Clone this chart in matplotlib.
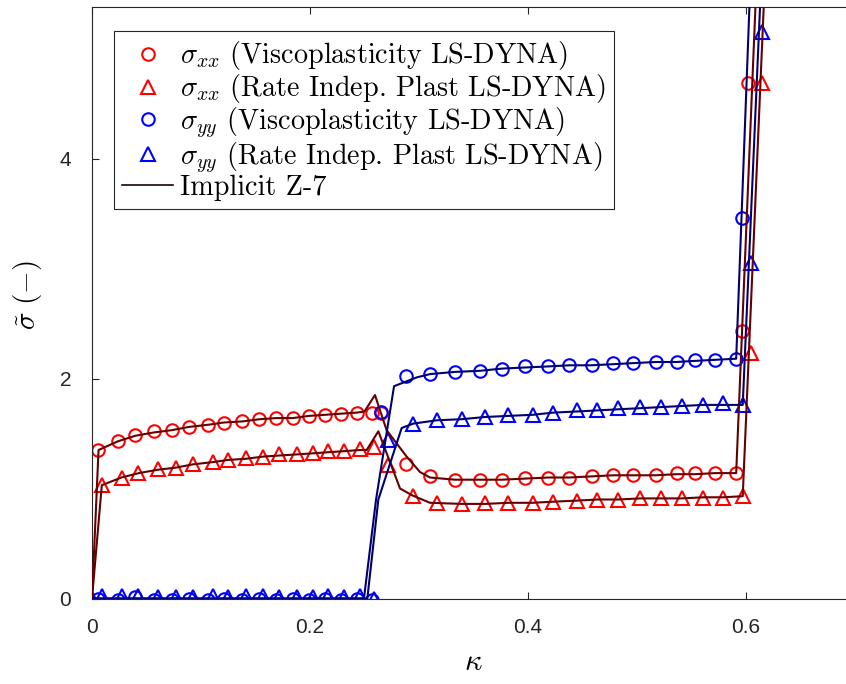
import matplotlib
matplotlib.use("Agg")
import matplotlib.pyplot as plt
from matplotlib.lines import Line2D

plt.rcParams['mathtext.fontset'] = 'cm'
plt.rcParams['font.family'] = ['Liberation Sans', 'DejaVu Sans']

# LS-DYNA, viscoplasticity (circles)
visc_x = [0.0058, 0.0236, 0.0394, 0.0569, 0.0731, 0.0890, 0.1067, 0.1214, 0.1379, 0.1535,
          0.1688, 0.1841, 0.1991, 0.2138, 0.2284, 0.2428, 0.2566, 0.2651, 0.2881, 0.3101,
          0.3330, 0.3560, 0.3764, 0.3972, 0.4186, 0.4376, 0.4584, 0.4783, 0.4966, 0.5174,
          0.5364, 0.5532, 0.5716, 0.5908, 0.5961, 0.6021]
sxx_visc = [1.35, 1.43, 1.49, 1.52, 1.53, 1.56, 1.58, 1.60, 1.61, 1.63,
            1.64, 1.64, 1.66, 1.67, 1.68, 1.69, 1.69, 1.69, 1.22, 1.11,
            1.08, 1.08, 1.08, 1.10, 1.10, 1.10, 1.11, 1.12, 1.12, 1.12,
            1.14, 1.14, 1.14, 1.14, 2.43, 4.69]
syy_visc = [0.00, -0.01, 0.01, -0.01, -0.01, 0.00, -0.01, 0.00, -0.01, 0.00,
            -0.01, 0.00, -0.01, 0.00, -0.01, 0.00, -0.01, 1.70, 2.02, 2.04,
            2.06, 2.07, 2.09, 2.11, 2.11, 2.12, 2.12, 2.14, 2.14, 2.15,
            2.15, 2.17, 2.17, 2.18, 3.46, 6.50]

# LS-DYNA, rate independent plasticity (triangles)
rip_x = [0.0, 0.0089, 0.0272, 0.0425, 0.0603, 0.0768, 0.0929, 0.1107, 0.1250, 0.1410,
         0.1566, 0.1718, 0.1878, 0.2025, 0.2168, 0.2315, 0.2459, 0.2587, 0.2718, 0.2948,
         0.3162, 0.3392, 0.3606, 0.3819, 0.4043, 0.4232, 0.4447, 0.4636, 0.4826, 0.5028,
         0.5220, 0.5413, 0.5608, 0.5786, 0.5970, 0.6043, 0.6144]
sxx_rip = [0.0, 1.03, 1.10, 1.14, 1.18, 1.19, 1.22, 1.24, 1.26, 1.28,
           1.29, 1.31, 1.31, 1.32, 1.34, 1.34, 1.36, 1.38, 1.21, 0.93,
           0.87, 0.86, 0.87, 0.87, 0.87, 0.88, 0.89, 0.90, 0.90, 0.91,
           0.91, 0.91, 0.91, 0.91, 0.93, 2.23, 4.69]
syy_rip = [0.0, 0.02, 0.02, 0.02, 0.01, 0.01, 0.01, 0.02, 0.01, 0.02,
           0.02, 0.01, 0.01, 0.01, 0.02, 0.01, 0.02, 0.00, 1.44, 1.59,
           1.62, 1.63, 1.65, 1.67, 1.67, 1.69, 1.71, 1.71, 1.73, 1.74,
           1.74, 1.75, 1.76, 1.78, 1.76, 3.05, 5.15]

# Implicit Z-7 curves
z7_xx_visc_x = [0.0, 0.006, 0.024, 0.040, 0.057, 0.073, 0.089, 0.107, 0.121, 0.138,
                0.154, 0.169, 0.184, 0.199, 0.214, 0.228, 0.243, 0.250, 0.2596, 0.2703,
                0.2887, 0.3009, 0.3101, 0.333, 0.356, 0.376, 0.397, 0.419, 0.438, 0.458,
                0.478, 0.497, 0.517, 0.536, 0.553, 0.572, 0.591, 0.620]
z7_xx_visc = [0.0, 1.35, 1.43, 1.48, 1.51, 1.53, 1.56, 1.58, 1.60, 1.61,
              1.63, 1.64, 1.64, 1.66, 1.67, 1.68, 1.69, 1.70, 1.85, 1.53,
              1.29, 1.15, 1.10, 1.08, 1.08, 1.08, 1.09, 1.10, 1.10, 1.11,
              1.12, 1.12, 1.12, 1.13, 1.13, 1.14, 1.14, 8.1]

z7_xx_rip_x = [0.0, 0.009, 0.027, 0.043, 0.060, 0.077, 0.093, 0.111, 0.125, 0.141,
               0.157, 0.172, 0.188, 0.203, 0.217, 0.232, 0.246, 0.252, 0.2627, 0.2826,
               0.2933, 0.3101, 0.339, 0.361, 0.382, 0.404, 0.423, 0.445, 0.464, 0.483,
               0.503, 0.522, 0.541, 0.561, 0.579, 0.597, 0.625]
z7_xx_rip = [0.0, 1.03, 1.10, 1.14, 1.17, 1.19, 1.22, 1.24, 1.26, 1.27,
             1.29, 1.30, 1.31, 1.32, 1.33, 1.34, 1.35, 1.35, 1.52, 1.00,
             0.94, 0.87, 0.86, 0.86, 0.87, 0.87, 0.88, 0.89, 0.90, 0.90,
             0.91, 0.91, 0.91, 0.92, 0.92, 0.93, 7.4]

z7_yy_visc_x = [0.0, 0.2495, 0.2606, 0.2771, 0.2979, 0.3101, 0.333, 0.356, 0.376, 0.397,
                0.419, 0.438, 0.458, 0.478, 0.497, 0.517, 0.536, 0.553, 0.572, 0.591, 0.615]
z7_yy_visc = [0.0, 0.0, 0.90, 1.93, 2.01, 2.04, 2.06, 2.07, 2.09, 2.10,
              2.11, 2.12, 2.12, 2.13, 2.14, 2.15, 2.15, 2.16, 2.17, 2.18, 8.5]

z7_yy_rip_x = [0.0, 0.2526, 0.2627, 0.2841, 0.2948, 0.3162, 0.3392, 0.3606, 0.3819, 0.4043,
               0.4232, 0.4447, 0.4636, 0.4826, 0.5028, 0.5220, 0.5413, 0.5608, 0.5786, 0.5970, 0.620]
z7_yy_rip = [0.0, 0.0, 0.90, 1.55, 1.59, 1.62, 1.63, 1.65, 1.66, 1.67,
             1.69, 1.70, 1.71, 1.72, 1.73, 1.74, 1.75, 1.76, 1.76, 1.76, 7.0]

dark_red = '#640000'
dark_blue = '#000070'

fig = plt.figure(figsize=(8.46, 6.84), dpi=100)
ax = fig.add_axes([92 / 846, (684 - 598.5) / 684, (855 - 92) / 846, (598.5 - 6.7) / 684])

mk = dict(linestyle='none', markerfacecolor='none', markeredgewidth=1.5, zorder=2)
ax.plot(visc_x, sxx_visc, marker='o', markersize=9, markeredgecolor='r', **mk)
ax.plot(rip_x, sxx_rip, marker='^', markersize=10, markeredgecolor='r', **mk)
ax.plot(visc_x, syy_visc, marker='o', markersize=9, markeredgecolor='b', **mk)
ax.plot(rip_x, syy_rip, marker='^', markersize=10, markeredgecolor='b', **mk)

ax.plot(z7_xx_visc_x, z7_xx_visc, color=dark_red, lw=1.5, zorder=3)
ax.plot(z7_xx_rip_x, z7_xx_rip, color=dark_red, lw=1.5, zorder=3)
ax.plot(z7_yy_visc_x, z7_yy_visc, color=dark_blue, lw=1.5, zorder=3)
ax.plot(z7_yy_rip_x, z7_yy_rip, color=dark_blue, lw=1.5, zorder=3)

ax.set_xlim(0, 0.7)
ax.set_ylim(0, 5.38)
ax.set_xticks([0, 0.2, 0.4, 0.6])
ax.set_xticklabels(['0', '0.2', '0.4', '0.6'])
ax.set_yticks([0, 2, 4])
ax.set_yticklabels(['0', '2', '4'])
ax.tick_params(axis='both', direction='in', length=5, width=0.8, top=True, right=True,
               labelsize=15, colors='#262626')
ax.tick_params(axis='x', pad=14)
ax.tick_params(axis='y', pad=15)
for s in ax.spines.values():
    s.set_color('#262626')
    s.set_linewidth(0.8)

ax.set_xlabel(r'$\kappa$', fontsize=22, va='center')
ax.xaxis.set_label_coords(0.5, -0.108)
ax.set_ylabel(r'$\tilde{\sigma}\ (-)$', fontsize=21, va='center')
ax.yaxis.set_label_coords(-0.084, 0.513)

handles = [
    Line2D([], [], marker='o', markersize=9, markeredgecolor='r', **mk),
    Line2D([], [], marker='^', markersize=10, markeredgecolor='r', **mk),
    Line2D([], [], marker='o', markersize=9, markeredgecolor='b', **mk),
    Line2D([], [], marker='^', markersize=10, markeredgecolor='b', **mk),
    Line2D([], [], color='#1a0000', lw=1.2),
]
labels = [
    r'$\sigma_{xx}$ (Viscoplasticity LS-DYNA)',
    r'$\sigma_{xx}$ (Rate Indep. Plast LS-DYNA)',
    r'$\sigma_{yy}$ (Viscoplasticity LS-DYNA)',
    r'$\sigma_{yy}$ (Rate Indep. Plast LS-DYNA)',
    'Implicit Z-7',
]
leg = ax.legend(handles, labels, loc='upper left', bbox_to_anchor=(0.0288, 0.959),
                borderaxespad=0, prop={'family': 'cmr10', 'size': 20.3},
                fancybox=False, framealpha=1, edgecolor='#262626',
                handlelength=1.8, handletextpad=0.25, labelspacing=0.0, borderpad=0.3)
leg.get_frame().set_linewidth(0.8)

fig.savefig('out.png', dpi=100)
